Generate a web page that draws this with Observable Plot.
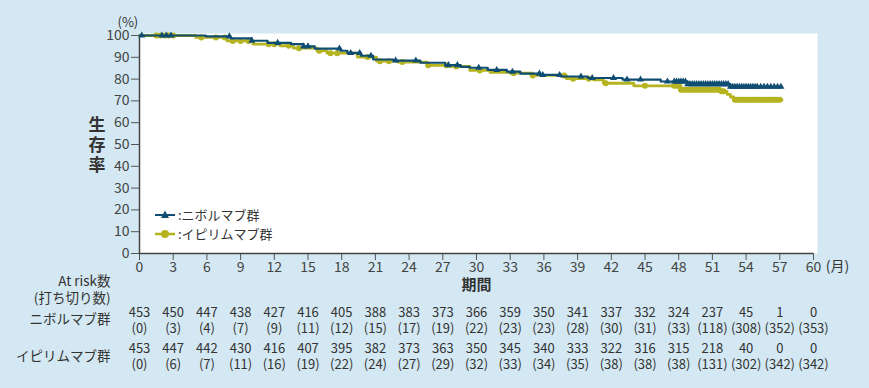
<!DOCTYPE html>
<html><head><meta charset="utf-8">
<script src="https://cdn.jsdelivr.net/npm/d3@7"></script>
<script src="https://cdn.jsdelivr.net/npm/@observablehq/plot@0.6"></script>
<style>
html,body{margin:0;padding:0;background:#d3e8f2;}
#wrap{position:relative;width:869px;height:388px;}
.legend{position:absolute;left:154px;top:205px;font:13px "Noto Sans CJK JP",sans-serif;color:#333;line-height:19px;}
.legend div{display:flex;align-items:center;height:19px;}
.legend svg{margin-right:2px;}
</style></head><body><div id="wrap"></div><script>
// Kaplan–Meier steps (months, %)
const nivoT = [0, 5.9, 8.1, 10.0, 11.4, 13.5, 14.6, 15.6, 17.9, 18.5, 19.7, 20.8, 22.6, 25.0, 27.2, 28.6, 29.4, 31.0, 32.7, 33.9, 35.7, 37.5, 39.9, 43.0, 46.4, 48.8, 52.6, 57.2];
const nivoS = [100, 99.6, 98.7, 97.6, 96.6, 96.0, 95.0, 94.0, 93.0, 92.0, 90.7, 89.0, 88.5, 87.5, 86.4, 85.6, 85.2, 84.2, 83.4, 82.5, 81.9, 81.2, 80.5, 79.8, 78.9, 77.7, 76.5, 76.5];
const ipiT = [0, 5.0, 7.8, 10.1, 12.5, 13.7, 15.8, 16.7, 19.4, 21.1, 23.0, 25.6, 27.5, 29.4, 31.2, 33.0, 35.0, 38.0, 40.4, 41.3, 44.0, 48.2, 51.7, 52.3, 52.6, 52.9, 57.2];
const ipiS = [100, 99.1, 97.5, 96.0, 95.3, 94.2, 93.0, 91.9, 90.1, 88.2, 87.8, 86.3, 85.8, 84.0, 83.1, 82.7, 81.7, 80.2, 79.7, 78.1, 76.9, 75.1, 74.4, 73.0, 71.8, 70.5, 70.5];
// censor times (months)
const nivoCensor = [0.2, 2.0, 2.4, 2.8, 8.0, 10.0, 12.3, 14.6, 15.0, 17.8, 18.8, 19.6, 20.6, 22.8, 24.6, 27.5, 28.3, 30.2, 31.8, 33.2, 35.6, 35.9, 37.4, 39.3, 40.3, 42.2, 43.4, 44.6, 47.0,
  47.6, 47.8, 48.0, 48.2, 48.4, 48.6, 48.8, 49.0, 49.2, 49.4, 49.6, 49.8, 50.0, 50.2, 50.4, 50.6, 50.8, 51.0, 51.2, 51.4, 51.6, 51.8, 52.0, 52.2, 52.4, 52.6, 52.8,
  53.0, 53.2, 53.4, 53.6, 53.8, 54.0, 54.2, 54.4, 54.6, 54.8, 55.0, 55.3, 55.6, 55.9, 56.2, 56.5, 56.8, 57.1];
const ipiCensor = [1.5, 1.9, 2.3, 2.6, 3.0, 5.5, 6.8, 7.6, 8.3, 9.0, 9.7, 11.5, 12.0, 13.3, 14.2, 16.0, 17.0, 17.6, 20.3, 21.4, 22.2, 23.4, 25.7, 27.3, 28.2, 30.3, 33.3, 35.0, 37.8, 38.6, 40.0, 41.5, 45.0,
  47.6, 47.8, 48.0, 48.2, 48.4, 48.6, 48.8, 49.0, 49.2, 49.4, 49.6, 49.8, 50.0, 50.2, 50.4, 50.6, 50.8, 51.0, 51.2, 51.4, 51.6, 51.8, 52.0,
  53.0, 53.2, 53.4, 53.6, 53.8, 54.0, 54.2, 54.4, 54.6, 54.8, 55.0, 55.2, 55.4, 55.6, 55.8, 56.0, 56.2, 56.4, 56.6, 56.8, 57.0];
// ticks and at-risk table
const xTicks = [0, 3, 6, 9, 12, 15, 18, 21, 24, 27, 30, 33, 36, 39, 42, 45, 48, 51, 54, 57, 60];
const yTicks = [0, 10, 20, 30, 40, 50, 60, 70, 80, 90, 100];
const nivoRisk = [453, 450, 447, 438, 427, 416, 405, 388, 383, 373, 366, 359, 350, 341, 337, 332, 324, 237, 45, 1, 0];
const nivoCens = [0, 3, 4, 7, 9, 11, 12, 15, 17, 19, 22, 23, 23, 28, 30, 31, 33, 118, 308, 352, 353];
const ipiRisk = [453, 447, 442, 430, 416, 407, 395, 382, 373, 363, 350, 345, 340, 333, 322, 316, 315, 218, 40, 0, 0];
const ipiCens = [0, 6, 7, 11, 16, 19, 22, 24, 27, 29, 32, 33, 34, 35, 38, 38, 38, 131, 302, 342, 342];
const groupNames = ["ニボルマブ群", "イピリムマブ群"];

const BLUE = "#0f4d72", YEL = "#b5b420";
const toPts = (T, S) => T.map((t, i) => ({t, s: S[i]}));
const survAt = (T, S, t) => { let v = S[0]; for (let i = 0; i < T.length; i++) if (T[i] <= t) v = S[i]; return v; };
const nivoLine = toPts(nivoT, nivoS), ipiLine = toPts(ipiT, ipiS);
const nivoC = nivoCensor.map(t => ({t, s: survAt(nivoT, nivoS, t)}));
const ipiC = ipiCensor.map(t => ({t, s: survAt(ipiT, ipiS, t)}));
const table = xTicks.map((m, i) => ({m, nr: nivoRisk[i], nc: nivoCens[i], ir: ipiRisk[i], ic: ipiCens[i]}));

const numStyle = {fontSize: 13, letterSpacing: "-0.5px", fill: "#333"};
const lab = (txt, dy, extra = {}) => Plot.text([txt], {text: d => d, frameAnchor: "bottom-left", dx: -29, dy, textAnchor: "end", fontSize: 13.5, fill: "#333", ...extra});

const chart = Plot.plot({
  width: 869, height: 388,
  marginLeft: 139, marginRight: 56, marginTop: 35, marginBottom: 135,
  style: {background: "#d3e8f2", fontFamily: '"Noto Sans CJK JP", sans-serif', fontSize: "14px", color: "#444"},
  x: {domain: [0, 60]},
  y: {domain: [0, 100]},
  marks: [
    Plot.frame({fill: "white", stroke: null, insetTop: -2, insetRight: -4}),
    Plot.axisX({ticks: xTicks, tickSize: 7, tickPadding: 2, label: null, fontSize: 14, stroke: "#555"}),
    Plot.axisY({ticks: yTicks, tickSize: 8, tickPadding: 2, label: null, fontSize: 14, stroke: "#555"}),
    Plot.ruleX([0], {stroke: "#444", strokeWidth: 1.5}),
    Plot.ruleY([0], {stroke: "#444", strokeWidth: 1.5}),
    Plot.line(ipiLine, {x: "t", y: "s", curve: "step-after", stroke: YEL, strokeWidth: 2.8}),
    Plot.dot(ipiC, {x: "t", y: "s", r: 3, fill: YEL, stroke: null}),
    Plot.line(nivoLine, {x: "t", y: "s", curve: "step-after", stroke: BLUE, strokeWidth: 2.2}),
    Plot.dot(nivoC, {x: "t", y: "s", symbol: "triangle", r: 2.6, fill: BLUE, stroke: null}),
    Plot.text(["(%)"], {text: d => d, frameAnchor: "top-left", dx: -22, dy: -18, fontSize: 13, fill: "#333"}),
    Plot.text(["生\n存\n率"], {text: d => d, frameAnchor: "left", dx: -51, fontSize: 17, fontWeight: "bold", lineHeight: 1.2, fill: "#333"}),
    Plot.text(["期間"], {text: d => d, frameAnchor: "bottom", dy: 36, fontSize: 15, fontWeight: "bold", fill: "#333"}),
    Plot.text([60], {x: d => d, text: () => "(月)", frameAnchor: "bottom", dx: 24, dy: 17, fontSize: 14, fill: "#333"}),
    lab("At risk数", 32),
    lab("(打ち切り数)", 49),
    lab(groupNames[0], 70),
    lab(groupNames[1], 107),
    Plot.text(table, {x: "m", text: d => String(d.nr), frameAnchor: "bottom", dy: 63, ...numStyle}),
    Plot.text(table, {x: "m", text: d => `(${d.nc})`, frameAnchor: "bottom", dy: 79, ...numStyle}),
    Plot.text(table, {x: "m", text: d => String(d.ir), frameAnchor: "bottom", dy: 99, ...numStyle}),
    Plot.text(table, {x: "m", text: d => `(${d.ic})`, frameAnchor: "bottom", dy: 115, ...numStyle})
  ]
});
const wrap = document.getElementById("wrap");
wrap.appendChild(chart);
const leg = document.createElement("div");
leg.className = "legend";
leg.innerHTML = `
<div><svg width="22" height="12"><line x1="1" x2="21" y1="6" y2="6" stroke="${BLUE}" stroke-width="2"/><path d="M11,1.5 L15,9 L7,9 Z" fill="${BLUE}"/></svg><span>:${groupNames[0]}</span></div>
<div><svg width="22" height="12"><line x1="1" x2="21" y1="6" y2="6" stroke="${YEL}" stroke-width="2.5"/><circle cx="11" cy="6" r="4" fill="${YEL}"/></svg><span>:${groupNames[1]}</span></div>`;
wrap.appendChild(leg);
</script></body></html>
